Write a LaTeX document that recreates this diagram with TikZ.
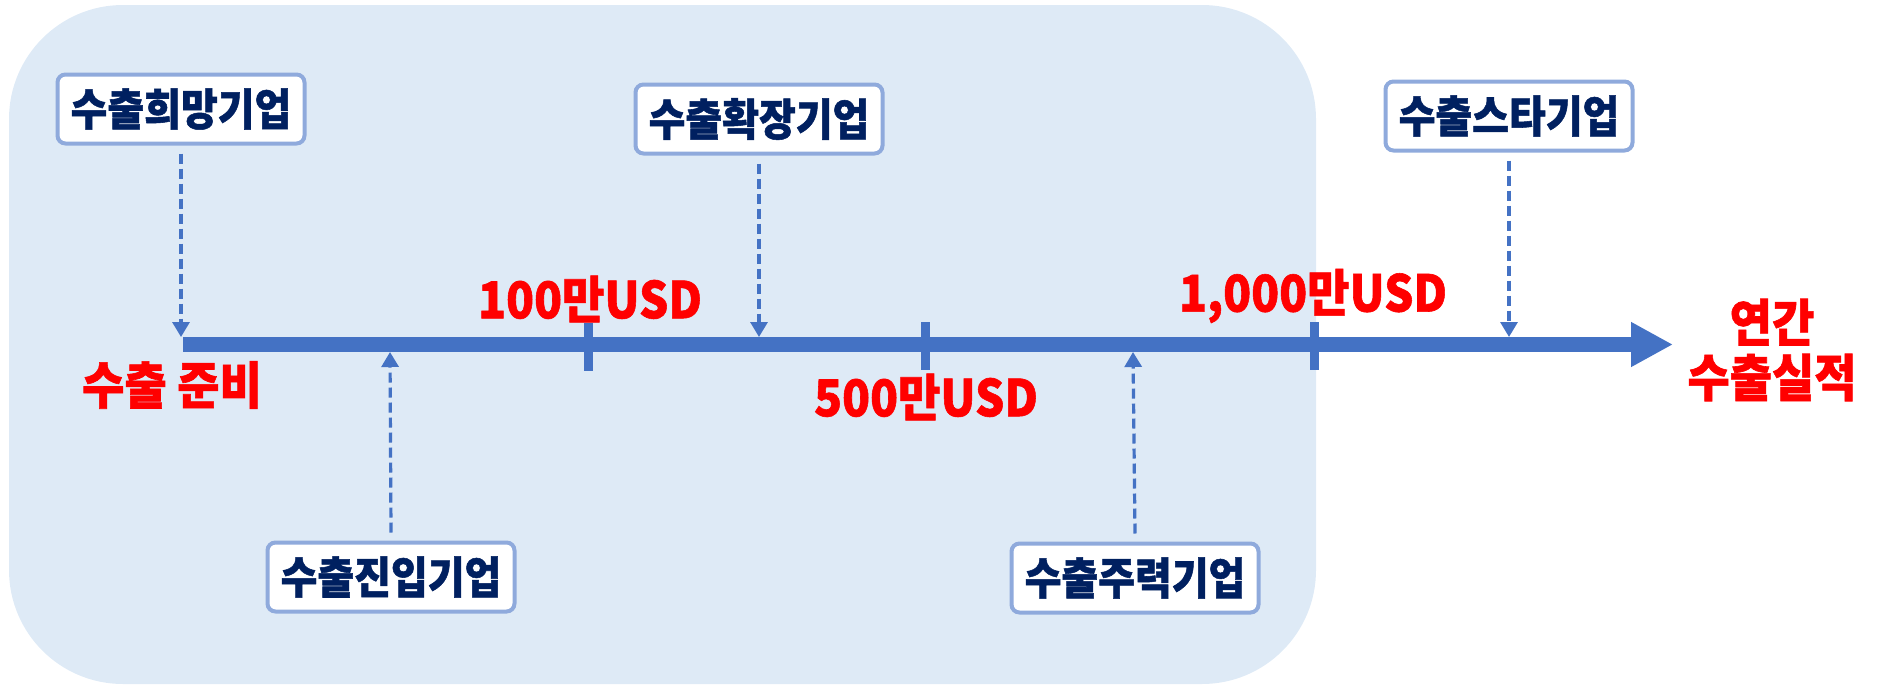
\documentclass[tikz,border=0pt]{standalone}
\usepackage{fontspec}
\newfontfamily\kr{Noto Sans CJK KR}[BoldFeatures={FakeBold=1.2}]
\usetikzlibrary{arrows.meta}
\definecolor{bgblue}{HTML}{DEEAF6}
\definecolor{axisblue}{HTML}{4472C4}
\definecolor{boxline}{HTML}{8FAADC}
\definecolor{navy}{HTML}{002060}
\definecolor{lblred}{HTML}{FF0000}
\newcommand{\tallish}[1]{\scalebox{1}[1.1]{#1}}
\begin{document}
\begin{tikzpicture}[x=0.5pt,y=-0.5pt,
  stagebox/.style={draw=boxline, line width=2pt, rounded corners=4pt, fill=white,
    minimum width=123.5pt, minimum height=34.5pt, inner sep=0pt,
    font=\kr\bfseries\fontsize{20}{20}\selectfont, text=navy},
  redlbl/.style={font=\kr\bfseries\fontsize{23}{23}\selectfont, text=lblred, inner sep=0pt},
  redbig/.style={font=\kr\bfseries\fontsize{23}{27.5}\selectfont, text=lblred, inner sep=0pt, align=center},
  dasharrow/.style={draw=axisblue, line width=1.6pt, dash pattern=on 5pt off 2.5pt,
    -{Triangle[width=8.5pt,length=7.5pt]}},
  tickmark/.style={draw=axisblue, line width=4.5pt},
]
\useasboundingbox (0,0) rectangle (1878,685);
\fill[bgblue, rounded corners=57pt] (9,5) rectangle (1316,684);

% axis
\coordinate (axS) at (183,344.5);
\coordinate (axE) at (1673,344.5);
\draw[axisblue, line width=7.5pt, -{Triangle[width=21pt,length=21pt]}] (axS) -- (axE);

% ticks
\coordinate (k1a) at (588,323); \coordinate (k1b) at (588,371);
\coordinate (k2a) at (925,322); \coordinate (k2b) at (925,370);
\coordinate (k3a) at (1314,322); \coordinate (k3b) at (1314,370);
\draw[tickmark] (k1a) -- (k1b);
\draw[tickmark] (k2a) -- (k2b);
\draw[tickmark] (k3a) -- (k3b);

% red labels
\node[redlbl] (l100) at (590,299) {\tallish{100만USD}};
\node[redlbl] (l500) at (926,397) {\tallish{500만USD}};
\node[redlbl] (l1000) at (1313,296) {\tallish{1,000만USD}};
\node[redbig] (prep) at (172,385) {\tallish{수출 준비}};
\node[redbig] (annual) at (1772,350) {\tallish{연간}\\\tallish{수출실적}};

% stage boxes
\node[stagebox] (hope) at (181,109) {\tallish{수출희망기업}};
\node[stagebox] (expand) at (759,119) {\tallish{수출확장기업}};
\node[stagebox] (star) at (1509,116) {\tallish{수출스타기업}};
\node[stagebox] (entry) at (391,577) {\tallish{수출진입기업}};
\node[stagebox] (main) at (1135,578) {\tallish{수출주력기업}};

% arrow targets on axis
\coordinate (t1) at (181,337);
\coordinate (t2) at (759,337);
\coordinate (t3) at (1509,337);
\coordinate (t4) at (390,352);
\coordinate (t5) at (1133,352);

\draw[dasharrow] ([yshift=-4pt]hope.south) -- (t1);
\draw[dasharrow] ([yshift=-4pt]expand.south) -- (t2);
\draw[dasharrow] ([yshift=-4pt]star.south) -- (t3);
\draw[dasharrow] ([yshift=4pt]entry.north) -- (t4);
\draw[dasharrow] ([yshift=4pt]main.north) -- (t5);
\end{tikzpicture}
\end{document}
